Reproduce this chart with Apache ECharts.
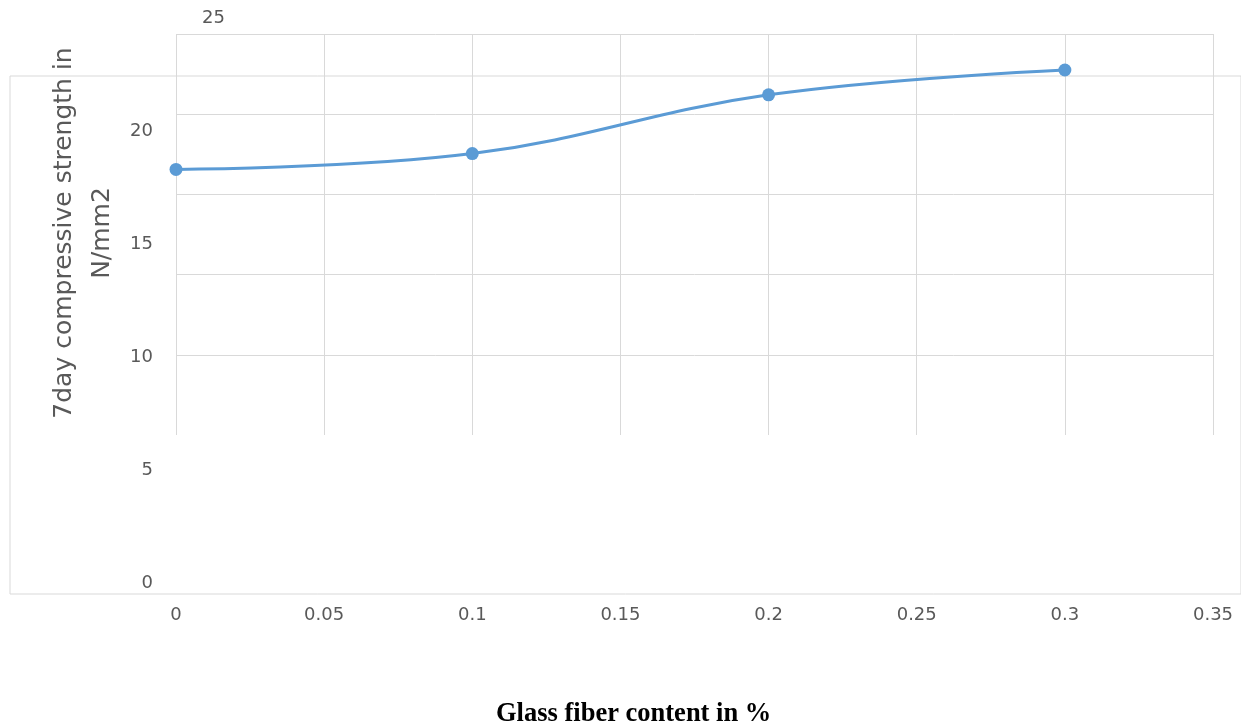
<!DOCTYPE html>
<html><head><meta charset="utf-8">
<script src="https://cdn.jsdelivr.net/npm/echarts@6/dist/echarts.min.js"></script>
<style>html,body{margin:0;padding:0;background:#fff}#c{width:1241px;height:724px}</style>
</head><body><div id="c"></div>
<script>
const fiberContent = [0, 0.1, 0.2, 0.3];
const strength7day = [18.3, 19.0, 21.6, 22.7];
const xTitle = 'Glass fiber content in %';
const yTitle = '7day compressive strength in\nN/mm2';

const grid = '#d9d9d9';
const txt = '#595959';
const tickFont = { color: txt, fontSize: 18, fontFamily: 'DejaVu Sans' };
const chart = echarts.init(document.getElementById('c'));
chart.setOption({
  animation: false,
  title: { text: xTitle, left: 491, top: 696,
    textStyle: { fontFamily: 'Liberation Serif', fontWeight: 'bold', fontSize: 26.5, color: '#000' } },
  grid: [
    { left: 10, top: 76, right: -2, bottom: 130, show: true, borderColor: grid, borderWidth: 1 },
    { left: 176, top: 34, right: 28, bottom: 289 },
    { left: 176, top: 18, right: 28, bottom: 141 }
  ],
  xAxis: [
    { gridIndex: 0, type: 'value', show: false },
    { gridIndex: 1, type: 'value', min: 0, max: 0.35, interval: 0.05,
      axisLine: { show: false }, axisTick: { show: false }, axisLabel: { show: false },
      splitLine: { show: true, lineStyle: { color: grid, width: 1 } } },
    { gridIndex: 2, type: 'value', min: 0, max: 0.35, interval: 0.05,
      axisLine: { show: false }, axisTick: { show: false }, splitLine: { show: false },
      axisLabel: Object.assign({ margin: 23 }, tickFont) }
  ],
  yAxis: [
    { gridIndex: 0, type: 'value', show: false },
    { gridIndex: 1, type: 'value', min: 0, max: 25, interval: 5,
      axisLine: { show: false }, axisTick: { show: false }, axisLabel: { show: false },
      splitLine: { show: true, lineStyle: { color: ['rgba(0,0,0,0)', grid, grid, grid, grid, grid], width: 1 } } },
    { gridIndex: 2, type: 'value', min: 0, max: 25, interval: 5,
      axisLine: { show: false }, axisTick: { show: false }, splitLine: { show: false },
      axisLabel: Object.assign({ margin: 23, formatter: v => (v === 25 ? '' : String(v)) }, tickFont) },
    { gridIndex: 2, type: 'value', min: 0, max: 25, interval: 5, position: 'left',
      axisLine: { show: false }, axisTick: { show: false }, splitLine: { show: false },
      axisLabel: Object.assign({ margin: -49, formatter: v => (v === 25 ? String(v) : '') }, tickFont) }
  ],
  graphic: [{
    type: 'text', x: 83, y: 233, rotation: Math.PI / 2,
    style: { text: yTitle, fill: txt, fontSize: 25, fontFamily: 'DejaVu Sans',
      align: 'center', verticalAlign: 'middle', lineHeight: 38 }
  }],
  series: [{
    type: 'line', xAxisIndex: 2, yAxisIndex: 2,
    data: fiberContent.map((x, i) => [x, strength7day[i]]),
    smooth: 0.4, symbol: 'circle', symbolSize: 13,
    lineStyle: { color: '#5B9BD5', width: 3 },
    itemStyle: { color: '#5B9BD5' }
  }]
});
</script></body></html>
